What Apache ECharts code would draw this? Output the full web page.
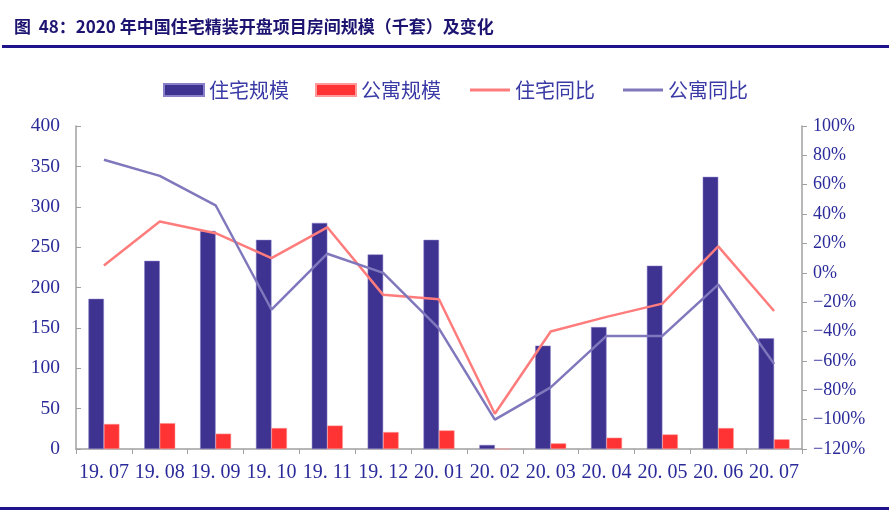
<!DOCTYPE html>
<html><head><meta charset="utf-8">
<script src="https://cdn.jsdelivr.net/npm/echarts@6/dist/echarts.min.js"></script>
<style>html,body{margin:0;padding:0;background:#fff}#c{width:889px;height:514px}</style>
</head><body><div id="c"></div>
<script>
const categories = ['19. 07','19. 08','19. 09','19. 10','19. 11','19. 12','20. 01','20. 02','20. 03','20. 04','20. 05','20. 06','20. 07'];
const residentialScale = [186,233,270,259,280,241,259,5,128,151,227,337,137];
const apartmentScale = [31,32,19,26,29,21,23,0,7,14,18,26,12];
const residentialYoY = [5,35,27,10,31,-15,-18,-96,-40,-30,-21,18,-26];
const apartmentYoY = [77,66,46,-25,13,0,-38,-100,-78,-43,-43,-8,-62];
const leftTicks = [0,50,100,150,200,250,300,350,400];
const rightTicks = [-120,-100,-80,-60,-40,-20,0,20,40,60,80,100];

const labelColor = '#2a2a9a';
const serif = '"Liberation Serif","DejaVu Serif",serif';
const legendText = {fontSize: 20, color: '#3a3aa6', fontFamily: '"Noto Sans CJK SC", sans-serif'};
const chart = echarts.init(document.getElementById('c'));
chart.setOption({
  animation: false,
  graphic: [
    {type:'text', left: 14, top: 18, style:{text:'图  48：2020 年中国住宅精装开盘项目房间规模（千套）及变化', font:'bold 17px "Noto Sans CJK SC", serif', fill:'#1c1470'}},
    {type:'rect', shape:{x:2, y:45, width:887, height:3}, style:{fill:'#1f148c'}},
    {type:'rect', shape:{x:0, y:507, width:889, height:3}, style:{fill:'#1f148c'}}
  ],
  legend: [
    {
      left: 158, top: 75, itemGap: 26, itemWidth: 40, itemHeight: 12,
      textStyle: legendText,
      data: [{name:'住宅规模', icon:'rect'}, {name:'公寓规模', icon:'rect'}]
    },
    {
      left: 465, top: 75, itemGap: 28, itemWidth: 40, itemHeight: 3,
      textStyle: legendText,
      data: [{name:'住宅同比', icon:'rect'}, {name:'公寓同比', icon:'rect'}]
    }
  ],
  grid: {left: 76, right: 87, top: 126, bottom: 65},
  xAxis: {
    type: 'category', data: categories,
    axisLine: {lineStyle: {color: '#a0a0a0', width: 1.5}},
    axisTick: {show: true, length: 5, lineStyle: {color: '#a0a0a0'}},
    axisLabel: {color: labelColor, fontSize: 20, fontFamily: serif, margin: 14, interval: 0}
  },
  yAxis: [
    {
      type: 'value', min: 0, max: 400, interval: 50,
      axisLine: {show: true, lineStyle: {color: '#a0a0a0', width: 1.5}},
      axisTick: {show: true, inside: true, length: 5, lineStyle: {color: '#a0a0a0'}},
      splitLine: {show: false},
      axisLabel: {color: labelColor, fontSize: 19.5, fontFamily: serif, margin: 16}
    },
    {
      type: 'value', min: -120, max: 100, interval: 20,
      axisLine: {show: true, lineStyle: {color: '#a0a0a0', width: 1.5}},
      axisTick: {show: true, length: 5, lineStyle: {color: '#a0a0a0'}},
      splitLine: {show: false},
      axisLabel: {color: labelColor, fontSize: 18, fontFamily: serif, margin: 11, formatter: v => String(v).replace('-', '\u2212') + '%'}
    }
  ],
  series: [
    {name:'住宅规模', type:'bar', data: residentialScale, barWidth: 15.5, barGap: '0%', itemStyle:{color:'#3f3392', borderColor:'#8a80c8', borderWidth:0.5}},
    {name:'公寓规模', type:'bar', data: apartmentScale, barWidth: 15.5, itemStyle:{color:'#ff3333', borderColor:'#ff9a9a', borderWidth:0.5}},
    {name:'住宅同比', type:'line', yAxisIndex: 1, data: residentialYoY, symbol:'none', lineStyle:{color:'#ff7c7c', width:2.5}, itemStyle:{color:'#ff7c7c'}},
    {name:'公寓同比', type:'line', yAxisIndex: 1, data: apartmentYoY, symbol:'none', lineStyle:{color:'#8078bc', width:2.5}, itemStyle:{color:'#8078bc'}}
  ]
});
</script></body></html>
